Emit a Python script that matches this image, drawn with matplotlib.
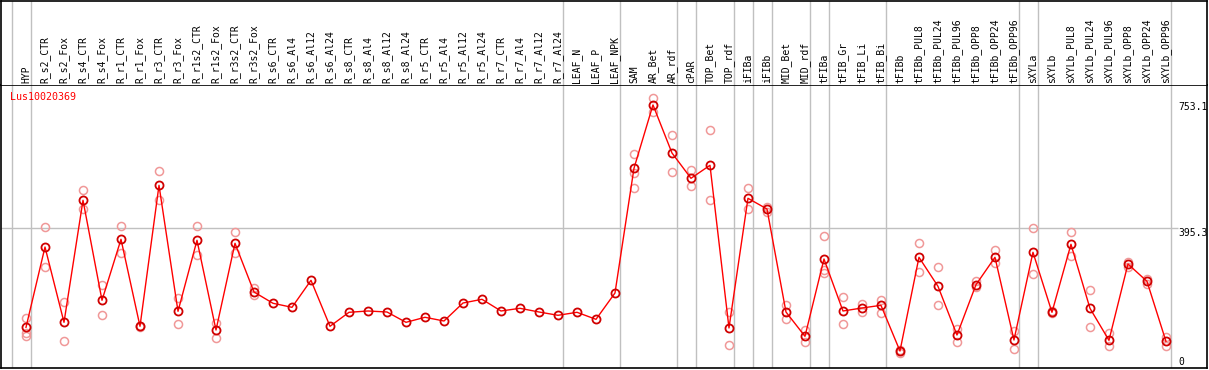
import matplotlib
matplotlib.use("Agg")
import numpy as np
import matplotlib.pyplot as plt

gene = "Lus10020369"

samples = ["HYP", "R_s2_CTR", "R_s2_Fox", "R_s4_CTR", "R_s4_Fox", "R_r1_CTR", "R_r1_Fox",
           "R_r3_CTR", "R_r3_Fox", "R_r1s2_CTR", "R_r1s2_Fox", "R_r3s2_CTR", "R_r3s2_Fox",
           "R_s6_CTR", "R_s6_Al4", "R_s6_Al12", "R_s6_Al24", "R_s8_CTR", "R_s8_Al4",
           "R_s8_Al12", "R_s8_Al24", "R_r5_CTR", "R_r5_Al4", "R_r5_Al12", "R_r5_Al24",
           "R_r7_CTR", "R_r7_Al4", "R_r7_Al12", "R_r7_Al24", "LEAF_N", "LEAF_P", "LEAF_NPK",
           "SAM", "AR_Bet", "AR_rdf", "cPAR", "TOP_Bet", "TOP_rdf", "iFIBa", "iFIBb",
           "MID_Bet", "MID_rdf", "tFIBa", "tFIB_Gr", "tFIB_Li", "tFIB_Bi", "tFIBb",
           "tFIBb_PUL8", "tFIBb_PUL24", "tFIBb_PUL96", "tFIBb_OPP8", "tFIBb_OPP24",
           "tFIBb_OPP96", "sXYLa", "sXYLb", "sXYLb_PUL8", "sXYLb_PUL24", "sXYLb_PUL96",
           "sXYLb_OPP8", "sXYLb_OPP24", "sXYLb_OPP96"]

# mean expression per sample
means = [106.7, 340.1, 121.2, 475.9, 185.2, 362.5, 109.6, 519.5, 153.2, 359.6, 98.8,
         350.9, 209.3, 176.5, 164.8, 243.3, 109.6, 150.3, 154.1, 151.2, 121.2, 135.8,
         125.0, 177.3, 188.1, 154.1, 161.9, 151.2, 141.6, 150.3, 129.9, 206.4,
         568.9, 753.1, 613.4, 539.8, 577.6, 104.7, 481.7, 450.6, 151.2, 80.5, 305.2,
         154.1, 162.8, 170.6, 37.8, 310.2, 225.9, 84.3, 230.5, 310.2, 69.8,
         324.7, 150.3, 348.0, 161.9, 68.9, 290.7, 240.4, 66.0]

# visible replicate values (empty where they hide under the mean)
replicates = [
    [132.8, 90.1, 81.4], [398.3, 281.1], [179.4, 66.9], [505.0, 451.5], [229.7, 141.6],
    [400.3, 323.5], [111.9, 106.7], [560.2, 476.7], [191.0, 115.4], [400.3, 316.0],
    [120.1, 74.7], [382.8, 321.8], [220.9, 199.7],
    [], [], [], [], [], [], [], [], [], [], [], [], [], [], [], [], [], [], [],
    [609.6, 554.4, 510.8], [773.3, 733.4], [665.7, 557.3], [564.0, 516.6], [679.4, 476.7],
    [152.0, 54.4], [510.8, 450.6], [455.5, 441.0], [171.5, 129.9], [98.8, 64.8],
    [372.1, 273.3, 265.4], [193.9, 116.3], [173.5, 151.2], [186.0, 149.1], [40.7, 32.8],
    [350.9, 268.3], [281.1, 171.5], [100.9, 64.8], [242.2, 224.7], [330.5, 292.7],
    [96.8, 42.7], [394.5, 260.8], [153.2, 147.4], [382.8, 313.1], [214.2, 106.7],
    [89.2, 51.5], [297.4, 282.8], [247.1, 232.6], [79.4, 52.3]]

# samples after which a group separator is drawn (0 = before the first)
group_ends = [0, 1, 29, 32, 35, 36, 38, 39, 40, 42, 43, 46, 53, 54, 61]
y_ticks = [753.1, 395.3, 0]
tick_labels = ["753.1", "395.3", "0"]

W, H = 1209, 370
fig = plt.figure(figsize=(W / 100, H / 100), dpi=100)
ax = fig.add_axes([1 / W, 2 / H, 1206 / W, 283 / H])
axh = fig.add_axes([1 / W, 285 / H, 1206 / W, 84 / H])

x = np.arange(len(samples))
xlim = (-1.316, 62.16)
mono = "DejaVu Sans Mono"
grid_c = "#c0c0c0"

for a in (ax, axh):
    a.set_xlim(*xlim)
    a.set_xticks([])
    a.set_yticks([])
    for s in a.spines.values():
        s.set_color("black")
        s.set_linewidth(1.2)
    for g in group_ends:
        a.axvline(g - 1 + 0.26, color=grid_c, lw=1, zorder=0)
axh.spines["bottom"].set_visible(False)
axh.set_ylim(0, 1)
ax.set_ylim(-11.6, 811)

ax.hlines(395.3, xlim[0], 60.63, color=grid_c, lw=1, zorder=0)

for i, reps in enumerate(replicates):
    if reps:
        ax.plot([i] * len(reps), reps, "o", ms=5.8, mfc="none", mec="#f09898", mew=1.1, zorder=2)

ax.plot(x, means, "-", color="red", lw=1, zorder=3)
ax.plot(x, means, "o", ms=5.8, mfc="none", mec="#d00000", mew=1.3, zorder=4)

for i, name in enumerate(samples):
    axh.text(i, 0.024, name, rotation=90, ha="center", va="bottom",
             fontsize=7, family=mono, transform=axh.get_xaxis_transform())

offs = [-2, -4.5, 2]
for v, lab, o in zip(y_ticks, tick_labels, offs):
    ax.annotate(lab, xy=(60.63, v), xytext=(0, o), textcoords="offset pixels",
                ha="left", va="center", fontsize=7, family=mono)

ax.annotate(gene, xy=(0, 1), xycoords="axes fraction", xytext=(9, -12),
            textcoords="offset pixels", ha="left", va="center",
            fontsize=7.2, family=mono, color="red")

fig.savefig("out.png", dpi=100)
